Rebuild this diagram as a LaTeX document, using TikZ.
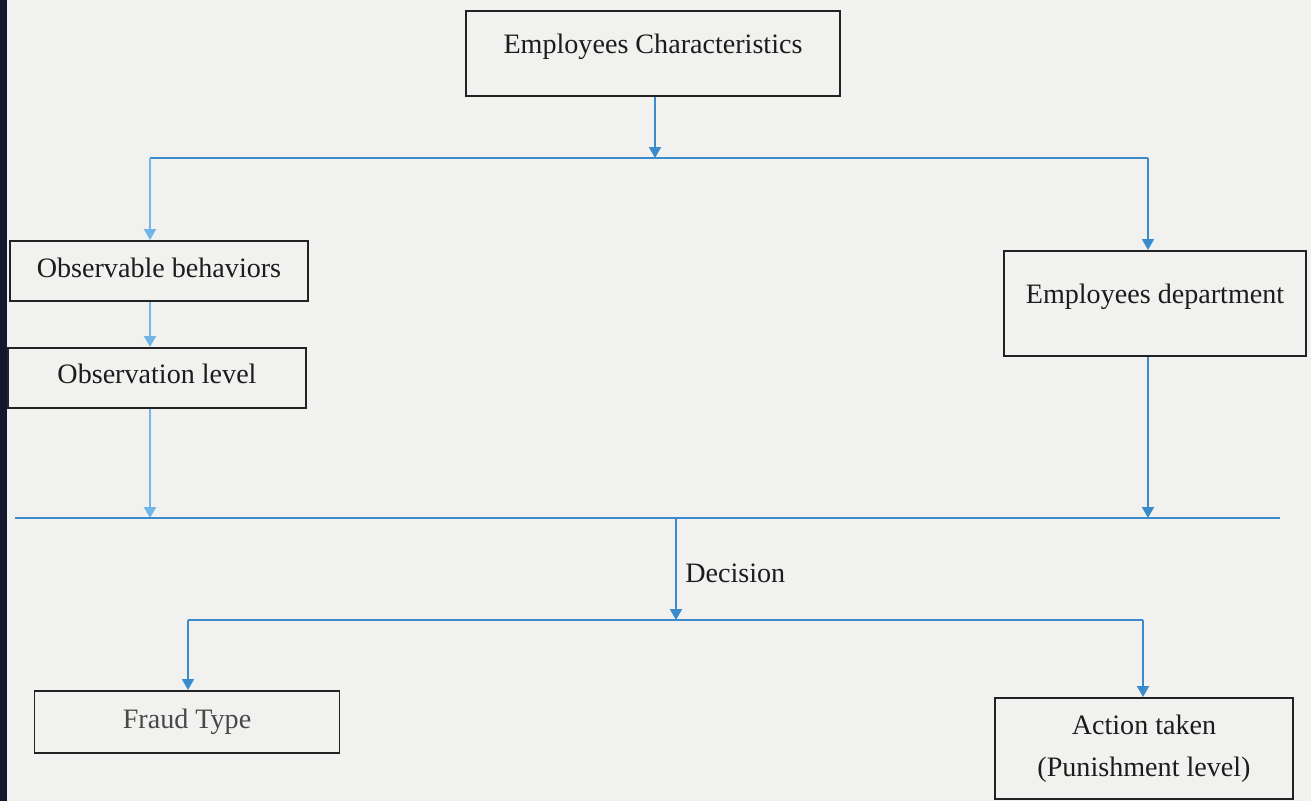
\documentclass[tikz,border=0pt]{standalone}
\usepackage{fontspec}
\setmainfont{Liberation Serif}
\usetikzlibrary{arrows.meta}
\definecolor{paper}{RGB}{241,241,239}
\definecolor{edge}{RGB}{20,22,48}
\definecolor{lineblue}{RGB}{58,138,204}
\definecolor{lightblue}{RGB}{112,182,232}
\definecolor{ink}{RGB}{28,28,28}
\definecolor{boxline}{RGB}{34,34,34}
\tikzset{
  box/.style={draw=boxline, line width=1.1pt, rectangle, inner xsep=0pt, inner ysep=0pt,
    text=ink, font=\fontsize{16pt}{24pt}\selectfont},
  flow/.style={draw=lineblue, line width=1.1pt},
  arr/.style={flow, -{Triangle[length=0.22cm,width=0.24cm]}},
  lightarr/.style={arr, draw=lightblue, -{Triangle[length=0.22cm,width=0.24cm,fill=lightblue]}},
}
\begin{document}
\begin{tikzpicture}[x={(0.02cm,0)}, y={(0,-0.02cm)}]
  % page and left binding edge
  \fill[paper] (0,0) rectangle (1311,801);
  \fill[edge] (0,0) rectangle (7,801);
  \useasboundingbox (0,0) rectangle (1311,801);

  % boxes
  \node[box, anchor=north, minimum width=7.48cm, text height=0.86cm, text depth=0.84cm]
    (ec) at (653,10) {Employees Characteristics};
  \node[box, anchor=north, minimum width=5.96cm, text height=0.74cm, text depth=0.46cm]
    (ob) at (159,240) {Observable behaviors};
  \node[box, anchor=north, minimum width=5.96cm, text height=0.72cm, text depth=0.48cm]
    (ol) at (157,347) {Observation level};
  \node[box, anchor=north, minimum width=6.04cm, text height=1.06cm, text depth=1.04cm]
    (ed) at (1155,250) {Employees department};
  \node[box, anchor=north, minimum width=6.1cm, text height=0.76cm, text depth=0.48cm,
    text={rgb,255:red,72;green,72;blue,72}]
    (ft) at (187,690) {Fraud Type};
  \node[box, anchor=north, minimum width=5.96cm, minimum height=2.02cm, align=center]
    (at) at (1144,697) {Action taken\\(Punishment level)};

  % bus junctions
  \coordinate (b1m) at (655,158);
  \coordinate (b1l) at (150,158);
  \coordinate (b1r) at (1148,158);
  \coordinate (b2l) at (15,518);
  \coordinate (b2r) at (1280,518);
  \coordinate (b2m) at (676,518);
  \coordinate (b3l) at (188,620);
  \coordinate (b3r) at (1143,620);

  % connectors
  \draw[arr] (ec.south -| b1m) -- (b1m);
  \draw[flow] (b1l) -- (b1r);
  \draw[lightarr] (b1l) -- (b1l |- ob.north);
  \draw[lightarr] (ob.south -| b1l) -- (ol.north -| b1l);
  \draw[lightarr] (ol.south -| b1l) -- (b1l |- b2l);
  \draw[arr] (b1r) -- (b1r |- ed.north);
  \draw[arr] (ed.south -| b1r) -- (b1r |- b2l);
  \draw[flow] (b2l) -- (b2r);
  \draw[arr] (b2m) -- (b2m |- b3l);
  \node[anchor=base west, text=ink, font=\fontsize{16pt}{24pt}\selectfont, inner sep=0pt]
    (dec) at (685,582) {Decision};
  \draw[flow] (b3l) -- (b3r);
  \draw[arr] (b3l) -- (b3l |- ft.north);
  \draw[arr] (b3r) -- (b3r |- at.north);
\end{tikzpicture}
\end{document}
